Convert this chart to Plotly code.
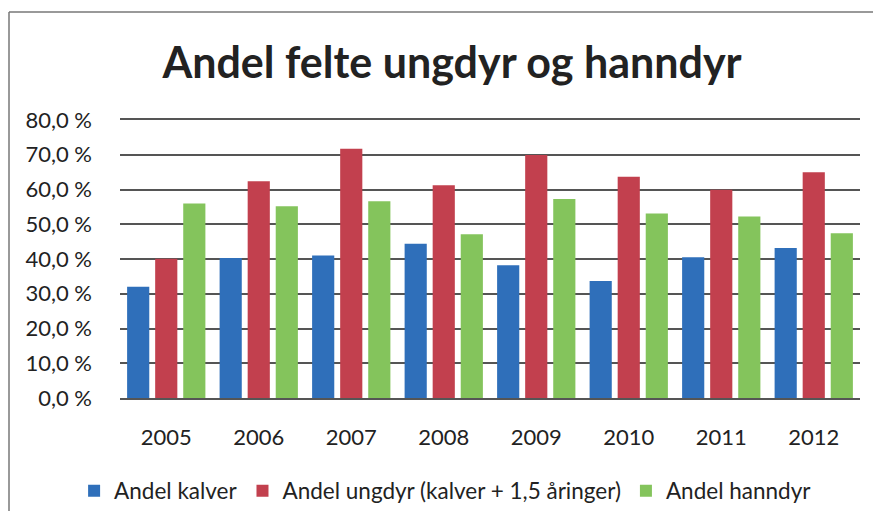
import plotly.graph_objects as go

years = ["2005", "2006", "2007", "2008", "2009", "2010", "2011", "2012"]
kalver = [32.0, 40.3, 41.0, 44.4, 38.2, 33.7, 40.5, 43.2]
ungdyr = [40.1, 62.4, 71.7, 61.2, 69.9, 63.7, 59.9, 65.0]
hanndyr = [56.0, 55.2, 56.6, 47.1, 57.3, 53.1, 52.2, 47.4]

names = ["Andel kalver", "Andel ungdyr (kalver + 1,5 åringer)", "Andel hanndyr"]
colors = ["#2f6fba", "#c2404e", "#84c45c"]

fig = go.Figure()
for name, vals, col in zip(names, [kalver, ungdyr, hanndyr], colors):
    fig.add_trace(go.Bar(x=years, y=vals, name=name, marker=dict(color=col, line=dict(width=0))))

# page body has an 8px margin: figure is drawn from (8, 8); keep it inside the window
W, H = 865, 503
L, T, R, B = 112, 112, 13, 113
pw, ph = W - L - R, H - T - B

font = "Lato, Open Sans, sans-serif"
fig.update_layout(
    width=W, height=H,
    margin=dict(l=L, r=R, t=T, b=B, autoexpand=False),
    paper_bgcolor="white", plot_bgcolor="white",
    separators=", ",
    barmode="group", bargap=0.09, bargroupgap=0.21,
    title=dict(text="<b>Andel felte ungdyr og hanndyr</b>", x=(452 - 8) / W, xanchor="center",
               y=1 - 55 / H, yanchor="middle",
               font=dict(family=font, size=43, color="#222222")),
    font=dict(family=font, size=20, color="#222222"),
    showlegend=True,
    legend=dict(orientation="h", x=0.44, xanchor="center", y=-(483 - 390) / ph, yanchor="middle",
                font=dict(size=22.5, color="#222222"), itemwidth=30, traceorder="normal"),
    xaxis=dict(showgrid=False, showline=True, mirror=True, linecolor="#555555", linewidth=1.5,
               tickfont=dict(size=22), ticks="", ticklabelstandoff=19),
    yaxis=dict(range=[0, 80], dtick=10, tickformat=".1f", ticksuffix=" %",
               showgrid=True, gridcolor="#555555", gridwidth=1.5,
               zeroline=False, showline=False, ticks="", ticklen=0,
               ticklabelstandoff=27, tickfont=dict(size=22)),
    shapes=[
        dict(type="line", xref="paper", yref="paper", x0=-111 / pw, x1=1.2,
             y0=1 + 108 / ph, y1=1 + 108 / ph, line=dict(color="#777777", width=1.5)),
        dict(type="line", xref="paper", yref="paper", x0=-111 / pw, x1=-111 / pw,
             y0=1 + 108 / ph, y1=-0.6, line=dict(color="#777777", width=1.5)),
    ],
)

fig.write_html("out.html", config={"displayModeBar": False})
